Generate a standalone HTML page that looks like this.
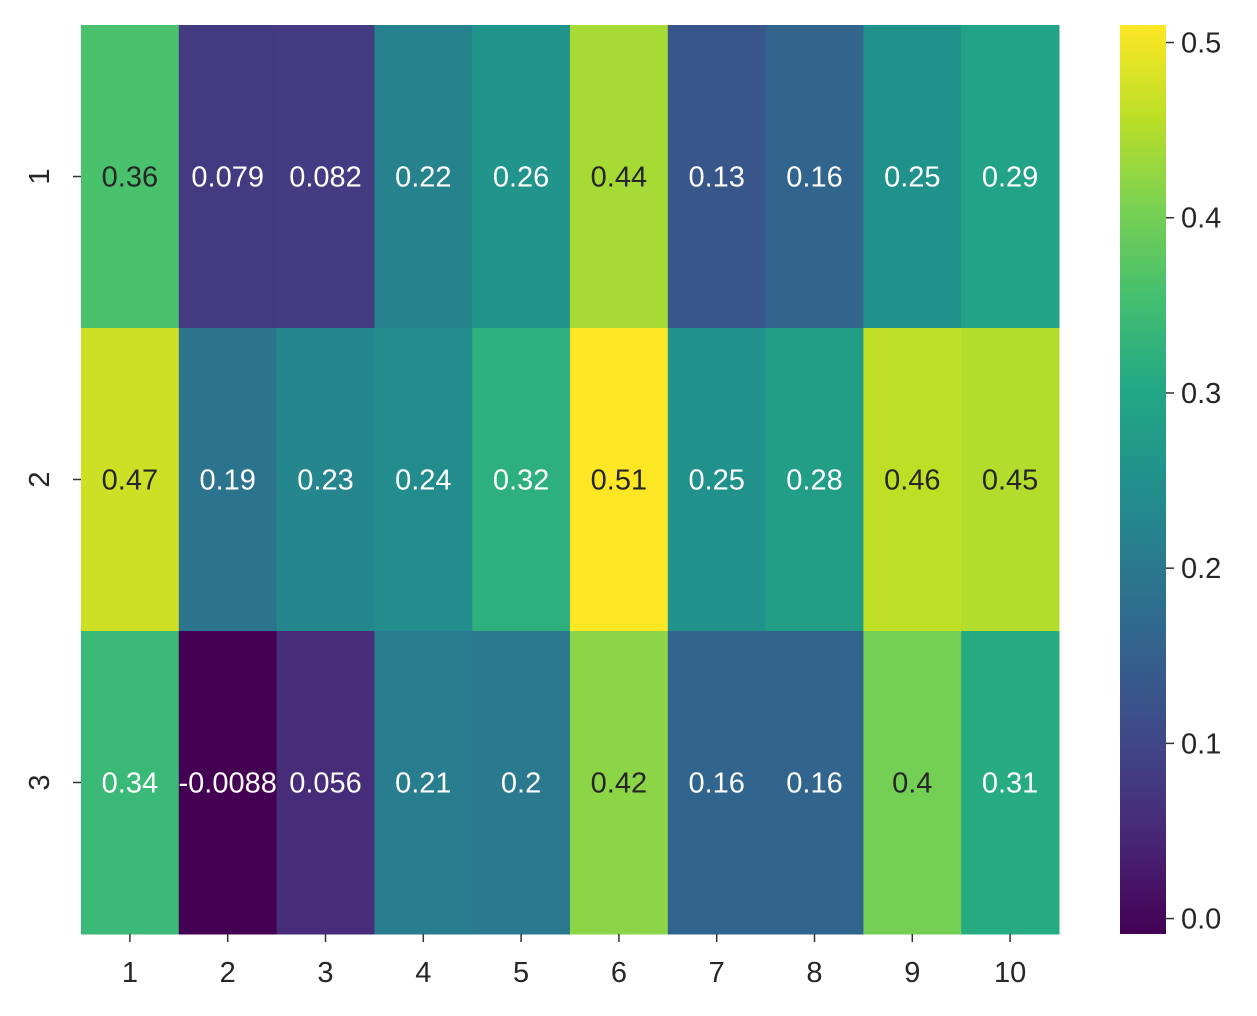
<!DOCTYPE html>
<html><head><meta charset="utf-8"><style>
html,body{margin:0;padding:0;background:#fff;width:1257px;height:1016px;overflow:hidden}
text{font-family:"Liberation Sans","DejaVu Sans",sans-serif}
</style></head><body>
<svg id="s" width="1257" height="1016" xmlns="http://www.w3.org/2000/svg">
<defs><linearGradient id="g" x1="0" y1="1" x2="0" y2="0">
<stop offset="0" stop-color="#440154"/><stop offset="0.1" stop-color="#482475"/><stop offset="0.2" stop-color="#414487"/><stop offset="0.3" stop-color="#355f8d"/><stop offset="0.4" stop-color="#2a788e"/><stop offset="0.5" stop-color="#21918c"/><stop offset="0.6" stop-color="#22a884"/><stop offset="0.7" stop-color="#44bf70"/><stop offset="0.8" stop-color="#7ad151"/><stop offset="0.9" stop-color="#bddf26"/><stop offset="1" stop-color="#fde725"/>
</linearGradient></defs>
<rect x="1120" y="25" width="46" height="909" fill="url(#g)"/>
</svg>
<script>
const V=[[.36,.079,.082,.22,.26,.44,.13,.16,.25,.29],[.47,.19,.23,.24,.32,.51,.25,.28,.46,.45],[.34,-.0088,.056,.21,.2,.42,.16,.16,.4,.31]];
const L=[["0.36","0.079","0.082","0.22","0.26","0.44","0.13","0.16","0.25","0.29"],["0.47","0.19","0.23","0.24","0.32","0.51","0.25","0.28","0.46","0.45"],["0.34","-0.0088","0.056","0.21","0.2","0.42","0.16","0.16","0.4","0.31"]];
const S=["#440154","#482475","#414487","#355f8d","#2a788e","#21918c","#22a884","#44bf70","#7ad151","#bddf26","#fde725"].map(h=>[1,3,5].map(i=>parseInt(h.substr(i,2),16)));
const vmin=-0.0088,vmax=0.51;
function col(v){let t=(v-vmin)/(vmax-vmin)*10;t=Math.max(0,Math.min(10,t));let i=Math.min(9,Math.floor(t)),f=t-i;return "rgb("+[0,1,2].map(k=>Math.round(S[i][k]+(S[i+1][k]-S[i][k])*f)).join(",")+")";}
const x0=81,y0=25,cw=97.8,ch=303;let h="";
for(let r=0;r<3;r++)for(let c=0;c<10;c++){const x=x0+c*cw,y=y0+r*ch;
h+=`<rect x="${x}" y="${y}" width="${cw+0.5}" height="${ch+0.5}" fill="${col(V[r][c])}"/>`;
h+=`<text x="${x+cw/2}" y="${y+ch/2+10}" font-size="29" text-anchor="middle" fill="${V[r][c]>0.35?'#262626':'#fff'}">${L[r][c]}</text>`;}
for(let c=0;c<10;c++){const x=x0+c*cw+cw/2;h+=`<line x1="${x}" y1="934" x2="${x}" y2="942" stroke="#333" stroke-width="1.5"/><text x="${x}" y="982" font-size="29" text-anchor="middle" fill="#262626">${c+1}</text>`;}
for(let r=0;r<3;r++){const y=y0+r*ch+ch/2;h+=`<line x1="73" y1="${y}" x2="81" y2="${y}" stroke="#333" stroke-width="1.5"/><text x="0" y="0" font-size="29" text-anchor="middle" fill="#262626" transform="translate(49,${y}) rotate(-90)">${r+1}</text>`;}
for(let k=0;k<=5;k++){const v=k/10,y=934-(v-vmin)/(vmax-vmin)*909;h+=`<line x1="1166" y1="${y}" x2="1174" y2="${y}" stroke="#333" stroke-width="1.5"/><text x="1181" y="${y+10}" font-size="29" fill="#262626">${v.toFixed(1)}</text>`;}
document.getElementById("s").insertAdjacentHTML("beforeend",h);
</script>
</body></html>
